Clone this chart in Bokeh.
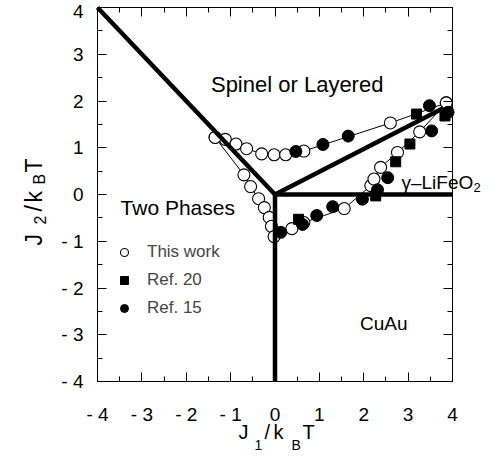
import math
from bokeh.plotting import figure
from bokeh.models import Range1d, LinearAxis, SingleIntervalTicker, Label, Legend, LegendItem
from bokeh.embed import file_html
from bokeh.resources import INLINE

FONT = "Liberation Sans"

# ---------------- data ----------------
tick_vals = [-4, -3, -2, -1, 0, 1, 2, 3, 4]
tick_text = ["- 4", "- 3", "- 2", "- 1", "0", "1", "2", "3", "4"]

# phase boundaries (thick lines)
bnd_xs = [[-4, 0], [0, 3.8], [0, 4], [0, 0]]
bnd_ys = [[4, 0], [0, 1.85], [0, 0], [0, -4]]

# This work: upper branch
tw_up_x = [-1.35, -1.12, -0.88, -0.64, -0.30, -0.02, 0.24, 0.65, 2.60, 3.86]
tw_up_y = [1.22, 1.18, 1.08, 0.98, 0.87, 0.85, 0.85, 0.93, 1.53, 1.96]
# This work: lower branch
tw_lo_x = [-1.35, -0.70, -0.55, -0.37, -0.24, -0.13, -0.08, -0.02, 0.38, 0.65, 1.56, 2.16, 2.23, 2.38, 2.76, 3.26, 3.86]
tw_lo_y = [1.22, 0.42, 0.17, -0.09, -0.28, -0.49, -0.68, -0.90, -0.73, -0.60, -0.30, 0.19, 0.33, 0.58, 0.90, 1.34, 1.96]

# Ref. 20 (filled squares)
r20_x = [0.53, 2.27, 2.72, 3.04, 3.19, 3.83]
r20_y = [-0.53, -0.03, 0.70, 1.08, 1.72, 1.68]

# Ref. 15 (filled circles)
r15_x = [0.47, 1.08, 1.65, 3.48, 0.13, 0.62, 0.94, 1.30, 1.97, 2.31, 2.54, 3.53, 3.90]
r15_y = [0.92, 1.07, 1.25, 1.90, -0.81, -0.64, -0.45, -0.26, -0.10, 0.10, 0.36, 1.36, 1.76]

# ---------------- layout (pixels) ----------------
W, H = 481, 454
FX0, FX1 = 97, 452      # canvas px of x=-4 and x=4
FY0, FY1 = 7, 381       # canvas px (from top) of y=4 and y=-4
kx = (FX1 - FX0) / 8.0
ky = (FY1 - FY0) / 8.0
x_range = Range1d(-4 - FX0 / kx, 4 + (W - FX1) / kx)
y_range = Range1d(-4 - (H - FY1) / ky, 4 + FY0 / ky)

p = figure(width=W, height=H, x_range=x_range, y_range=y_range,
           output_backend="svg", toolbar_location=None,
           min_border_left=0, min_border_right=0, min_border_top=0, min_border_bottom=0,
           x_axis_location=None, y_axis_location=None)
p.xgrid.visible = False
p.ygrid.visible = False
p.outline_line_color = None
p.background_fill_color = "white"
p.border_fill_color = "white"

overrides = {v: t for v, t in zip(tick_vals, tick_text)}
ax_b = LinearAxis(fixed_location=-4)
ax_l = LinearAxis(fixed_location=-4)
ax_t = LinearAxis(fixed_location=4)
ax_r = LinearAxis(fixed_location=4)
p.add_layout(ax_b, "below")
p.add_layout(ax_l, "left")
p.add_layout(ax_t, "above")
p.add_layout(ax_r, "right")
for ax in (ax_b, ax_l, ax_t, ax_r):
    ax.bounds = (-4, 4)
    ax.ticker = SingleIntervalTicker(interval=1, num_minor_ticks=2)
    ax.major_tick_in = 9
    ax.major_tick_out = 0
    ax.minor_tick_in = 5
    ax.minor_tick_out = 0
    ax.axis_line_color = "black"
    ax.axis_line_width = 1
    ax.major_tick_line_color = "black"
    ax.minor_tick_line_color = "black"
    ax.major_label_text_font = FONT
    ax.major_label_text_font_size = "19px"
    ax.major_label_text_color = "black"
    ax.major_label_overrides = overrides
for ax in (ax_t, ax_r):
    ax.major_label_text_color = None
ax_b.major_label_standoff = 22
ax_l.major_label_standoff = 14

# thin connecting lines
p.line(tw_up_x, tw_up_y, line_color="black", line_width=1)
p.line(tw_lo_x, tw_lo_y, line_color="black", line_width=1)

# open circles (this work)
r_tw = p.scatter(tw_up_x + tw_lo_x, tw_up_y + tw_lo_y, marker="circle", size=12,
                 fill_color="white", line_color="black", line_width=1.1)

# thick phase boundaries
p.multi_line(bnd_xs, bnd_ys, line_color="black", line_width=4.5)

# references
r_20 = p.scatter(r20_x, r20_y, marker="square", size=10, fill_color="black", line_color="black")
r_15 = p.scatter(r15_x, r15_y, marker="circle", size=12, fill_color="black", line_color="black")

legend = Legend(items=[LegendItem(label="This work", renderers=[r_tw]),
                       LegendItem(label="Ref. 20", renderers=[r_20]),
                       LegendItem(label="Ref. 15", renderers=[r_15])],
                location=(114, 132), background_fill_alpha=0, border_line_color=None,
                label_text_font=FONT, label_text_font_size="17px",
                glyph_width=20, glyph_height=28, label_height=28, spacing=0,
                label_standoff=13, padding=0, margin=0)
p.add_layout(legend, "center")


def lab(x, y, t, size="20px", align="left", angle=0):
    p.add_layout(Label(x=x, y=y, text=t, angle=angle,
                       text_font=FONT, text_font_size=size, text_align=align,
                       text_baseline="alphabetic", text_color="black"))


# region labels
lab(0.50, 2.35, "Spinel or Layered", size="22px", align="center")
lab(-3.48, -0.28, "Two Phases", size="21px")
lab(2.45, -2.75, "CuAu", size="19px", align="center")
lab(2.85, 0.26, "γ–LiFeO", size="19px")
lab(4.473, 0.15, "2", size="13px")

# x axis title  J1 / kB T
lab(-0.822, -5.070, "J")
lab(-0.462, -5.348, "1", size="14px")
lab(-0.237, -5.070, "/")
lab(-0.034, -5.070, "k")
lab(0.372, -5.348, "B", size="14px")
lab(0.620, -5.070, "T")

# y axis title  J2 / kB T (rotated)
a = math.pi / 2
lab(-5.420, -1.091, "J", size="23px", angle=a)
lab(-5.307, -0.642, "2", size="16px", angle=a)
lab(-5.420, -0.364, "/", size="23px", angle=a)
lab(-5.420, -0.171, "k", size="23px", angle=a)
lab(-5.307, 0.214, "B", size="16px", angle=a)
lab(-5.420, 0.471, "T", size="23px", angle=a)

open("out.html", "w").write(file_html(p, INLINE))
